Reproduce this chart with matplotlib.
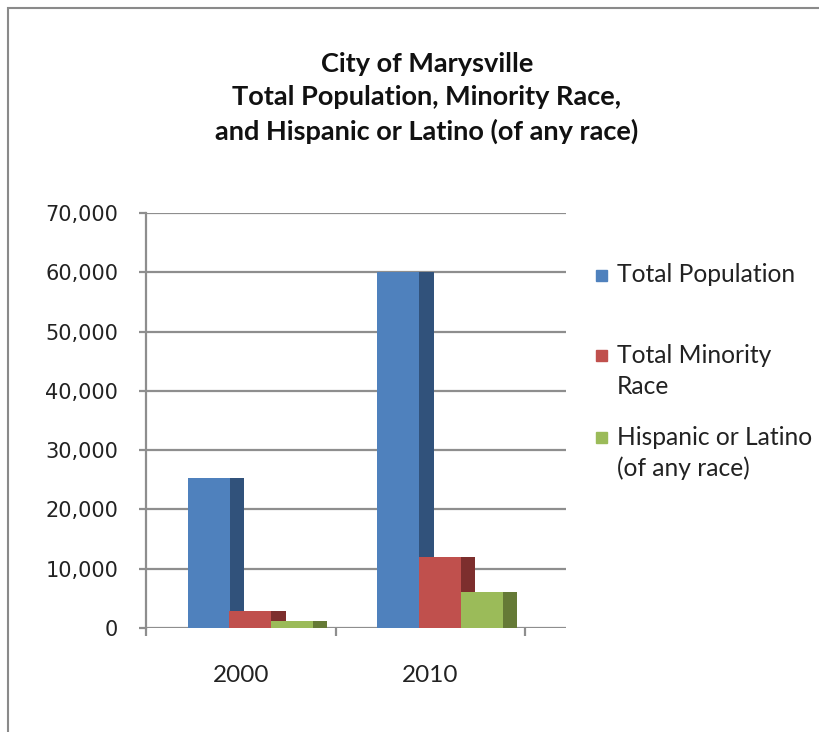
import numpy as np
import matplotlib
matplotlib.use('Agg')
import matplotlib.pyplot as plt
from matplotlib.patches import Rectangle

years = ['2000', '2010']
series = ['Total Population', 'Total Minority\nRace', 'Hispanic or Latino\n(of any race)']
total_pop = [25300, 60020]
minority = [2900, 12000]
hispanic = [1200, 6100]
values = [total_pop, minority, hispanic]

front_colors = ['#4F81BD', '#C0504D', '#9BBB59']
side_colors = ['#31527B', '#7D2E2D', '#657A36']
grid_color = '#8E8E8E'

W, H = 820, 732
fig = plt.figure(figsize=(W/100, H/100), dpi=100)
fig.patch.set_facecolor('white')

# grey outer frame (left and top edges visible)
fig.add_artist(Rectangle((8/W, -0.1), 1.2, 1 - 8/H + 0.1, transform=fig.transFigure,
                         fill=False, edgecolor='#8A8A8A', linewidth=1.5))

ax = fig.add_axes([146/W, 1 - 628/H, (566-146)/W, (628-213)/H])
x = np.arange(len(years))
w = 0.222   # front face width
d = 0.075   # side (depth) face width
offsets = [-0.28, -0.06, 0.16]

for i in range(len(series)):
    left = x + offsets[i]
    ax.bar(left + w, values[i], width=d, align='edge', color=side_colors[i], zorder=3 + 2*i)
    ax.bar(left, values[i], width=w, align='edge', color=front_colors[i], zorder=4 + 2*i)

ax.set_ylim(0, 70000)
ax.set_xlim(-0.5, 1.716)
ax.set_yticks(np.arange(0, 70001, 10000))
ax.set_yticklabels(['{:,}'.format(v) for v in range(0, 70001, 10000)],
                   fontsize=15, family='DejaVu Sans', color='#222222')
ax.yaxis.grid(True, color=grid_color, linewidth=1.6)
ax.set_axisbelow(True)
ax.tick_params(axis='y', length=5, width=1.6, color=grid_color, pad=15)

ax.set_xticks(x)
ax.set_xticklabels(years, fontsize=17.5, family='Lato', color='#222222')
ax.set_xticks([-0.5, 0.5, 1.5], minor=True)
ax.tick_params(axis='x', which='major', length=0, pad=27)
ax.tick_params(axis='x', which='minor', length=6, width=1.6, color=grid_color)

for s in ['top', 'right', 'bottom']:
    ax.spines[s].set_visible(False)
ax.spines['left'].set_color(grid_color)
ax.spines['left'].set_linewidth(1.6)

fig.text(427/W, 1 - 98/H, 'City of Marysville\nTotal Population, Minority Race,\nand Hispanic or Latino (of any race)',
         ha='center', va='center', fontsize=19.5, fontweight='bold', family='Lato',
         linespacing=1.45, color='#111111')

# legend drawn by hand to keep Excel-like spacing
leg_y = [275, 355, 437]   # centre of first text line, pixels from top
line_h = 32
for i, lab in enumerate(series):
    nlines = lab.count('\n') + 1
    fig.add_artist(Rectangle((596/W, 1 - (leg_y[i] + 6)/H), 11/W, 11/H,
                             transform=fig.transFigure, color=front_colors[i]))
    yc = leg_y[i] + (nlines - 1) * line_h / 2
    fig.text(617/W, 1 - yc/H, lab, ha='left', va='center',
             fontsize=17.7, family='Lato', color='#222222', linespacing=1.41)

fig.savefig('out.png', dpi=100)
